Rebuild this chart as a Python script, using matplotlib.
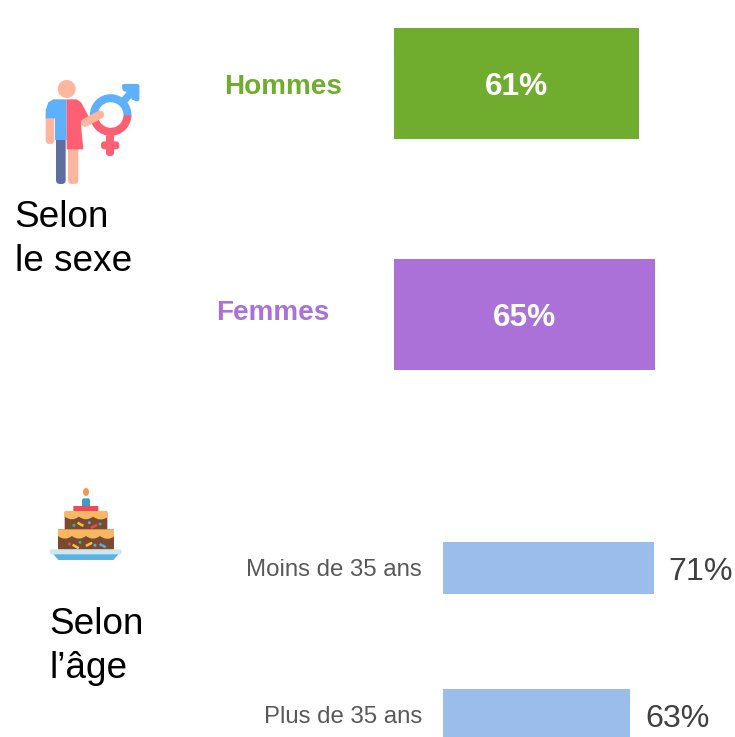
import matplotlib
matplotlib.use('Agg')
import matplotlib.pyplot as plt
from matplotlib.patches import Circle, Ellipse, Polygon, Wedge, FancyBboxPatch, PathPatch
from matplotlib.path import Path
from matplotlib.transforms import ScaledTranslation

plt.rcParams['font.family'] = ['Liberation Sans', 'DejaVu Sans']

# Data
sexe_labels = ['Hommes', 'Femmes']
sexe_valeurs = [61, 65]
sexe_couleurs = ['#70AD2F', '#AB71D8']
age_labels = ['Moins de 35 ans', 'Plus de 35 ans']
age_valeurs = [71, 63]

W, H = 735, 737
fig = plt.figure(figsize=(W / 100, H / 100), dpi=100)


def axes_px(x0, y0, x1, y1):
    # axes from pixel box (y measured from the top)
    ax = fig.add_axes([x0 / W, 1 - y1 / H, (x1 - x0) / W, (y1 - y0) / H])
    ax.axis('off')
    return ax


def baisser(textes, pts):
    # move bar labels down a little
    for t in textes:
        x, y = t.xyann
        t.xyann = (x, y - pts)


# Overlay in pixels for icons and free text
bg = axes_px(0, 0, W, H)
bg.set_xlim(0, W)
bg.set_ylim(H, 0)

# Bars by sex: 4.02 px per percent
ax1 = axes_px(394, 0, W, 400)
ax1.set_xlim(0, (W - 394) / 4.02)
ax1.set_ylim((400 - 83.5) / 231, -83.5 / 231)
b1 = ax1.barh(range(2), sexe_valeurs, height=0.48, color=sexe_couleurs)
t1 = ax1.bar_label(b1, labels=[f'{v}%' for v in sexe_valeurs], label_type='center',
                   color='white', fontsize=22.8, fontweight='bold')
baisser(t1, 2.6)

# Bars by age: 2.97 px per percent
ax2 = axes_px(443, 480, W, H)
ax2.set_xlim(0, (W - 443) / 2.97)
ax2.set_ylim((H - 568) / 147, (480 - 568) / 147)
b2 = ax2.barh(range(2), age_valeurs, height=0.354, color='#9ABDEB')
t2 = ax2.bar_label(b2, labels=[f'{v}%' for v in age_valeurs], padding=10.8,
                   color='#404040', fontsize=23.2, clip_on=False)
baisser(t2, 2.6)
ax2.axis('on')
for s in ax2.spines.values():
    s.set_visible(False)
ax2.set_xticks([])
ax2.set_yticks(range(2), age_labels, color='#595959', fontsize=17.3)
ax2.tick_params(axis='y', length=0, pad=15)
for t in ax2.get_yticklabels():
    t.set_transform(t.get_transform() + ScaledTranslation(0, 0.5 / 100, fig.dpi_scale_trans))

# Free text
bg.text(283.5, 87, sexe_labels[0], color=sexe_couleurs[0], fontsize=20.1,
        fontweight='bold', ha='center', va='center')
bg.text(272.5, 313, sexe_labels[1], color=sexe_couleurs[1], fontsize=20.1,
        fontweight='bold', ha='center', va='center')
bg.text(14, 227, 'Selon', fontsize=26.6, color='black')
bg.text(15, 271, 'le sexe', fontsize=26.6, color='black')
bg.text(49, 634, 'Selon', fontsize=26.6, color='black')
bg.text(50, 678, 'l’âge', fontsize=26.6, color='black')


# Gender icon, coordinates from a 3x crop starting at (20, 70)
def gx(x, y):
    return (20 + x / 3, 70 + y / 3)


def gbox(x0, y0, x1, y1, color, r=4):
    a = gx(x0, y0)
    b = gx(x1, y1)
    bg.add_patch(FancyBboxPatch((a[0] + r, a[1] + r), b[0] - a[0] - 2 * r, b[1] - a[1] - 2 * r,
                                boxstyle=f'round,pad={r}', fc=color, ec='none'))


peau = '#FFB69E'
bleu = '#5FB0FA'
rouge = '#FF5F73'
centre = gx(272, 135)
bg.add_patch(Wedge(centre, 20.8, 180, 360, width=8, fc=bleu, ec='none'))
bg.add_patch(Wedge(centre, 20.8, 0, 180, width=8, fc=rouge, ec='none'))
bg.plot(*zip(gx(312, 92), gx(342, 58)), color=bleu, lw=5.3, solid_capstyle='butt')
bg.add_patch(Polygon([gx(x, y) for x, y in [(312, 48), (352, 48), (352, 88), (340, 84), (336, 62), (314, 58)]],
                     fc=bleu, ec=bleu, lw=3, joinstyle='round'))
gbox(258, 192, 282, 258, rouge, r=3)
gbox(243, 214, 298, 238, rouge, r=3)

bg.add_patch(Circle(gx(140, 57), 9, fc=peau, ec='none'))
gbox(77, 125, 103, 222, peau)
gbox(108, 190, 137, 342, '#5E6E9E')
gbox(144, 200, 175, 342, peau)
bg.plot(*zip(gx(195, 158), gx(240, 134)), color=peau, lw=6, solid_capstyle='round')
bg.add_patch(Polygon([gx(x, y) for x, y in [(77, 145), (77, 120), (85, 97), (100, 88), (140, 88),
                                            (140, 210), (105, 210), (105, 145)]],
                     fc=bleu, ec='none'))
bg.add_patch(Polygon([gx(x, y) for x, y in [(140, 88), (170, 88), (184, 98), (206, 140), (183, 165),
                                            (190, 238), (140, 238)]],
                     fc=rouge, ec='none'))


# Cake icon, coordinates from a 3x crop starting at (30, 480)
def cx(x, y):
    return (30 + x / 3, 480 + y / 3)


def cbox(x0, y0, x1, y1, color, r=1.0):
    a = cx(x0, y0)
    b = cx(x1, y1)
    bg.add_patch(FancyBboxPatch((a[0] + r, a[1] + r), b[0] - a[0] - 2 * r, b[1] - a[1] - 2 * r,
                                boxstyle=f'round,pad={r}', fc=color, ec='none'))


def creme(x0, x1, y0, y1, n):
    # frosting with a smooth wavy lower edge
    verts = [cx(x0, y0), cx(x1, y0), cx(x1, y1)]
    codes = [Path.MOVETO, Path.LINETO, Path.LINETO]
    pas = (x1 - x0) / n
    for i in range(n):
        xa = x1 - i * pas
        verts += [cx(xa - pas / 2, y1 + 14), cx(xa - pas, y1 - 2)]
        codes += [Path.CURVE3, Path.CURVE3]
    verts.append(cx(x0, y0))
    codes.append(Path.LINETO)
    bg.add_patch(PathPatch(Path(verts, codes), fc='#F8B863', ec='none'))


bg.add_patch(Ellipse(cx(168, 36), 6, 8, fc='#F29A46', ec='none'))
cbox(156, 55, 180, 82, '#3E9CC9', r=2)
cbox(130, 78, 205, 96, '#F0475B', r=0.5)
cbox(104, 95, 232, 150, '#7A4A2E')
creme(104, 232, 93, 112, 3)
cbox(84, 148, 252, 209, '#7A4A2E')
creme(84, 252, 148, 170, 4)
bg.add_patch(Polygon([cx(x, y) for x, y in [(68, 220), (268, 220), (250, 240), (85, 240)]],
                     fc='#58B2E2', ec='none'))
cbox(60, 208, 275, 223, '#CFE6F2', r=1.5)

points_x = [132, 210, 178, 118, 150, 195]
points_y = [136, 132, 128, 192, 187, 196]
points_c = ['#2DB89A', '#2DB89A', '#5FA8E0', '#F0475B', '#2DB89A', '#5FA8E0']
for x, y, c in zip(points_x, points_y, points_c):
    bg.add_patch(Circle(cx(x, y), 1.5, fc=c, ec='none'))
for x0, y0, x1, y1, c in [(146, 130, 157, 136, '#F5C04A'), (186, 142, 198, 136, '#F0475B'),
                          (131, 196, 143, 203, '#F5C04A'), (171, 196, 183, 190, '#F5C04A'),
                          (212, 194, 224, 200, '#5FA8E0')]:
    bg.plot(*zip(cx(x0, y0), cx(x1, y1)), color=c, lw=1.8)

fig.savefig('out.png', dpi=100)
